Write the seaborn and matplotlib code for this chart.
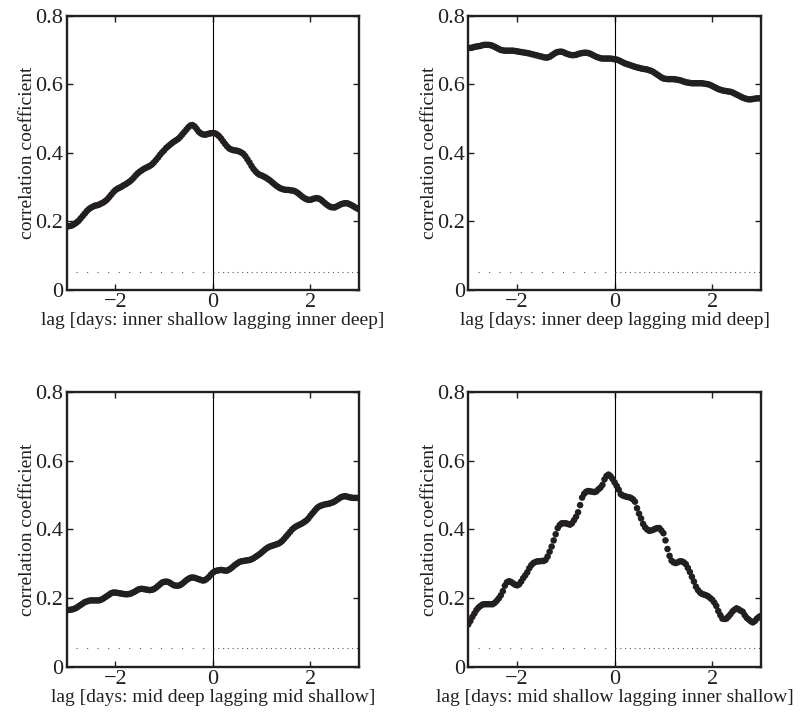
import numpy as np
import pandas as pd
import matplotlib
matplotlib.use("Agg")
import matplotlib.pyplot as plt
import seaborn as sns

# hourly lags from -3 to 3 days
lag_hours = np.arange(-72, 73)
lags = lag_hours / 24.0

corr_inner_shallow_inner_deep = [
    0.185, 0.186, 0.187, 0.189, 0.193, 0.197, 0.202, 0.209, 0.216, 0.223, 0.230, 0.236,
    0.240, 0.243, 0.246, 0.247, 0.249, 0.252, 0.255, 0.259, 0.264, 0.271, 0.278, 0.285,
    0.291, 0.295, 0.298, 0.301, 0.305, 0.308, 0.312, 0.316, 0.321, 0.327, 0.334, 0.340,
    0.345, 0.349, 0.353, 0.356, 0.359, 0.362, 0.366, 0.372, 0.379, 0.386, 0.394, 0.401,
    0.407, 0.414, 0.419, 0.424, 0.429, 0.433, 0.437, 0.441, 0.447, 0.454, 0.461, 0.468,
    0.475, 0.480, 0.481, 0.477, 0.470, 0.462, 0.457, 0.454, 0.453, 0.454, 0.456, 0.457,
    0.458, 0.457, 0.454, 0.449, 0.442, 0.434, 0.426, 0.419, 0.413, 0.410, 0.408, 0.407,
    0.406, 0.404, 0.401, 0.397, 0.390, 0.381, 0.372, 0.362, 0.353, 0.346, 0.340, 0.336,
    0.334, 0.331, 0.328, 0.324, 0.320, 0.315, 0.310, 0.305, 0.301, 0.297, 0.295, 0.293,
    0.292, 0.292, 0.291, 0.290, 0.289, 0.286, 0.282, 0.277, 0.272, 0.268, 0.265, 0.263,
    0.263, 0.265, 0.267, 0.268, 0.267, 0.264, 0.259, 0.254, 0.249, 0.245, 0.242, 0.241,
    0.241, 0.244, 0.247, 0.250, 0.252, 0.253, 0.253, 0.251, 0.248, 0.245, 0.241, 0.238,
    0.235,
]

corr_inner_deep_mid_deep = [
    0.706, 0.706, 0.707, 0.709, 0.710, 0.711, 0.712, 0.714, 0.715, 0.715, 0.715, 0.714,
    0.712, 0.709, 0.706, 0.703, 0.700, 0.699, 0.698, 0.698, 0.698, 0.698, 0.698, 0.697,
    0.696, 0.695, 0.694, 0.693, 0.692, 0.691, 0.690, 0.688, 0.687, 0.685, 0.684, 0.682,
    0.681, 0.679, 0.678, 0.678, 0.680, 0.684, 0.688, 0.692, 0.694, 0.695, 0.695, 0.693,
    0.690, 0.688, 0.686, 0.685, 0.685, 0.686, 0.688, 0.690, 0.691, 0.692, 0.692, 0.691,
    0.689, 0.686, 0.683, 0.680, 0.678, 0.676, 0.675, 0.675, 0.675, 0.675, 0.675, 0.674,
    0.673, 0.672, 0.670, 0.667, 0.664, 0.661, 0.659, 0.657, 0.655, 0.653, 0.651, 0.649,
    0.648, 0.646, 0.645, 0.644, 0.643, 0.641, 0.639, 0.636, 0.632, 0.628, 0.624, 0.620,
    0.617, 0.616, 0.615, 0.615, 0.615, 0.615, 0.614, 0.613, 0.612, 0.610, 0.608, 0.606,
    0.605, 0.604, 0.603, 0.603, 0.603, 0.603, 0.603, 0.603, 0.602, 0.601, 0.600, 0.598,
    0.595, 0.592, 0.589, 0.586, 0.584, 0.582, 0.581, 0.580, 0.579, 0.578, 0.576, 0.573,
    0.570, 0.567, 0.564, 0.561, 0.559, 0.557, 0.556, 0.556, 0.557, 0.558, 0.559, 0.559,
    0.559,
]

corr_mid_deep_mid_shallow = [
    0.165, 0.165, 0.166, 0.167, 0.169, 0.172, 0.176, 0.180, 0.184, 0.188, 0.190, 0.192,
    0.193, 0.193, 0.193, 0.193, 0.193, 0.195, 0.198, 0.202, 0.206, 0.210, 0.214, 0.216,
    0.216, 0.215, 0.214, 0.213, 0.212, 0.211, 0.211, 0.212, 0.214, 0.217, 0.220, 0.224,
    0.226, 0.227, 0.226, 0.225, 0.224, 0.223, 0.224, 0.226, 0.230, 0.235, 0.240, 0.245,
    0.247, 0.248, 0.247, 0.244, 0.240, 0.237, 0.236, 0.236, 0.238, 0.242, 0.247, 0.252,
    0.256, 0.259, 0.260, 0.259, 0.257, 0.255, 0.253, 0.251, 0.252, 0.256, 0.261, 0.268,
    0.274, 0.278, 0.280, 0.281, 0.282, 0.281, 0.280, 0.280, 0.283, 0.287, 0.292, 0.297,
    0.301, 0.305, 0.307, 0.308, 0.309, 0.310, 0.311, 0.313, 0.316, 0.320, 0.324, 0.328,
    0.333, 0.338, 0.343, 0.347, 0.350, 0.352, 0.354, 0.356, 0.358, 0.361, 0.366, 0.372,
    0.379, 0.386, 0.393, 0.400, 0.405, 0.409, 0.412, 0.415, 0.418, 0.422, 0.426, 0.432,
    0.440, 0.447, 0.454, 0.461, 0.466, 0.469, 0.471, 0.473, 0.474, 0.475, 0.477, 0.479,
    0.482, 0.486, 0.490, 0.494, 0.496, 0.497, 0.496, 0.494, 0.493, 0.492, 0.492, 0.492,
    0.492,
]

corr_mid_shallow_inner_shallow = [
    0.123, 0.133, 0.145, 0.155, 0.165, 0.172, 0.177, 0.181, 0.182, 0.182, 0.182, 0.182,
    0.182, 0.186, 0.192, 0.199, 0.208, 0.220, 0.236, 0.246, 0.249, 0.247, 0.243, 0.239,
    0.237, 0.240, 0.248, 0.258, 0.266, 0.275, 0.287, 0.296, 0.302, 0.305, 0.307, 0.307,
    0.308, 0.308, 0.311, 0.321, 0.335, 0.350, 0.368, 0.386, 0.404, 0.413, 0.418, 0.418,
    0.418, 0.416, 0.414, 0.418, 0.427, 0.437, 0.450, 0.471, 0.493, 0.504, 0.510, 0.512,
    0.511, 0.510, 0.509, 0.511, 0.517, 0.522, 0.530, 0.546, 0.556, 0.560, 0.555, 0.547,
    0.537, 0.527, 0.516, 0.503, 0.499, 0.497, 0.495, 0.494, 0.492, 0.488, 0.481, 0.462,
    0.446, 0.432, 0.416, 0.406, 0.400, 0.396, 0.397, 0.399, 0.402, 0.404, 0.404, 0.397,
    0.389, 0.368, 0.343, 0.323, 0.309, 0.304, 0.302, 0.304, 0.307, 0.307, 0.304, 0.299,
    0.288, 0.276, 0.262, 0.248, 0.233, 0.223, 0.216, 0.212, 0.210, 0.208, 0.205, 0.200,
    0.195, 0.187, 0.177, 0.162, 0.150, 0.140, 0.139, 0.140, 0.146, 0.153, 0.161, 0.166,
    0.170, 0.167, 0.163, 0.160, 0.150, 0.142, 0.137, 0.132, 0.129, 0.133, 0.140, 0.145,
    0.148,
]

xlabels = [
    "lag [days: inner shallow lagging inner deep]",
    "lag [days: inner deep lagging mid deep]",
    "lag [days: mid deep lagging mid shallow]",
    "lag [days: mid shallow lagging inner shallow]",
]
series = [
    corr_inner_shallow_inner_deep,
    corr_inner_deep_mid_deep,
    corr_mid_deep_mid_shallow,
    corr_mid_shallow_inner_shallow,
]
sig_level = 0.053
ylabel = "correlation coefficient"
xticks = [-2, 0, 2]
xticklabels = ["\u22122", "0", "2"]
yticks = [0, 0.2, 0.4, 0.6, 0.8]
yticklabels = ["0", "0.2", "0.4", "0.6", "0.8"]

sns.set_style("ticks")
plt.rcParams["font.family"] = ["Liberation Serif", "DejaVu Serif"]
plt.rcParams["xtick.direction"] = "in"
plt.rcParams["ytick.direction"] = "in"

W, H = 809, 713
fig = plt.figure(figsize=(W / 100, H / 100), dpi=100)
fig.patch.set_facecolor("white")

boxes = [(66.5, 15.7), (468.3, 15.7), (66.5, 392.3), (468.3, 392.3)]
aw, ah = 292.7, 274.3
ink = "#231f20"

for (x0, y0), vals, xl in zip(boxes, series, xlabels):
    ax = fig.add_axes([x0 / W, 1 - (y0 + ah) / H, aw / W, ah / H])
    df = pd.DataFrame({"lag": lags, "r": vals})
    ax.axvline(0, color="black", lw=0.8, zorder=1)
    ax.plot([-2.8, 0], [sig_level, sig_level], color="0.35", lw=0.8,
            linestyle=(0, (1, 8.5)), zorder=1)
    ax.plot([0, 3], [sig_level, sig_level], color="0.35", lw=0.8,
            linestyle=(0, (1, 3.3)), zorder=1)
    sns.scatterplot(data=df, x="lag", y="r", ax=ax, s=22, color=ink,
                    edgecolor="none", linewidth=0, zorder=3, clip_on=True)
    ax.set_xlim(-3, 3)
    ax.set_ylim(0, 0.8)
    ax.set_xticks(xticks)
    ax.set_xticklabels(xticklabels)
    ax.set_yticks(yticks)
    ax.set_yticklabels(yticklabels)
    ax.tick_params(axis="both", which="both", direction="in", length=4, width=1,
                   top=True, right=True, labelsize=16, pad=2.5, colors=ink)
    for sp in ax.spines.values():
        sp.set_visible(True)
        sp.set_linewidth(1.7)
        sp.set_color(ink)
    ax.set_xlabel(xl, fontsize=14, labelpad=0, color=ink)
    ax.set_ylabel(ylabel, fontsize=14, color=ink)
    ax.yaxis.set_label_coords(-0.105, 0.5)

fig.savefig("out.png", dpi=100, facecolor="white")
